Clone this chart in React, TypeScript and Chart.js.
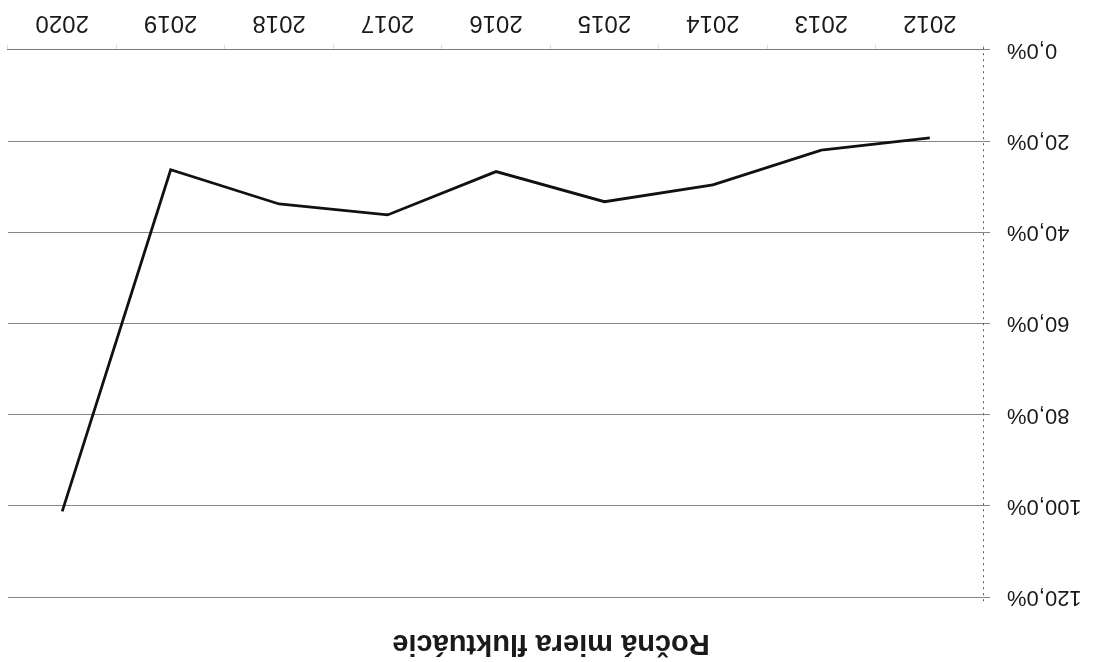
import React, { useEffect, useRef } from "react";
import { Chart, registerables } from "chart.js";

Chart.register(...registerables);

const years = ["2012", "2013", "2014", "2015", "2016", "2017", "2018", "2019", "2020"];
const turnover = [19.3, 22.0, 29.6, 33.3, 26.7, 36.2, 33.8, 26.3, 101.2];
const yTicks = [0, 20, 40, 60, 80, 100, 120];
const titleText = "Ročná miera fluktuácie";

const FONT = "'Liberation Sans', Arial, 'DejaVu Sans', sans-serif";

const dottedYAxis = {
  id: "dottedYAxis",
  afterDraw(chart: any) {
    const { ctx, scales } = chart;
    const y = scales.y;
    const x = Math.round(y.right) + 0.5;
    ctx.save();
    ctx.strokeStyle = "#5a5a5a";
    ctx.lineWidth = 1;
    ctx.setLineDash([2, 4]);
    ctx.beginPath();
    ctx.moveTo(x, y.getPixelForValue(120) - 4);
    ctx.lineTo(x, y.getPixelForValue(0) + 5);
    ctx.stroke();
    ctx.restore();
  },
};

export default function App() {
  const ref = useRef<HTMLCanvasElement | null>(null);

  useEffect(() => {
    if (!ref.current) return;
    const chart = new Chart(ref.current, {
      type: "line",
      data: {
        labels: years,
        datasets: [
          {
            label: titleText,
            data: turnover,
            borderColor: "#111111",
            borderWidth: 2.8,
            pointRadius: 0,
            tension: 0,
            fill: false,
          },
        ],
      },
      options: {
        responsive: false,
        animation: false,
        layout: { padding: { left: 0, right: 8, top: 0, bottom: 0 } },
        plugins: {
          legend: { display: false },
          tooltip: { enabled: false },
          title: {
            display: true,
            text: titleText,
            color: "#1a1a1a",
            font: { family: FONT, size: 29, weight: "bold" },
            padding: { top: 2, bottom: 28 },
          },
        },
        scales: {
          x: {
            type: "category",
            offset: true,
            grid: {
              offset: true,
              drawOnChartArea: false,
              drawTicks: true,
              tickLength: 5,
              color: "#dadada",
            },
            border: { display: true, color: "#7a7a7a" },
            ticks: {
              color: "#1a1a1a",
              font: { family: FONT, size: 24 },
              padding: 8,
              autoSkip: false,
              maxRotation: 0,
            },
          },
          y: {
            min: 0,
            max: 120,
            afterBuildTicks: (scale: any) => {
              scale.ticks = yTicks.map((v) => ({ value: v }));
            },
            afterFit: (scale: any) => {
              scale.width = 110;
            },
            grid: {
              color: "#858585",
              lineWidth: 1,
              drawTicks: true,
              tickLength: 6,
            },
            border: { display: false },
            ticks: {
              color: "#1a1a1a",
              font: { family: FONT, size: 22 },
              padding: 17,
              callback: (v: any) => Number(v).toFixed(1).replace(".", ",") + "%",
            },
          },
        },
      },
      plugins: [dottedYAxis],
    });
    return () => chart.destroy();
  }, []);

  return (
    <div
      style={{
        position: "fixed",
        left: 0,
        top: 0,
        width: 1094,
        height: 662,
        background: "#ffffff",
        transform: "rotate(180deg)",
      }}
    >
      <canvas ref={ref} width={1094} height={662} style={{ width: 1094, height: 662, display: "block" }} />
    </div>
  );
}
